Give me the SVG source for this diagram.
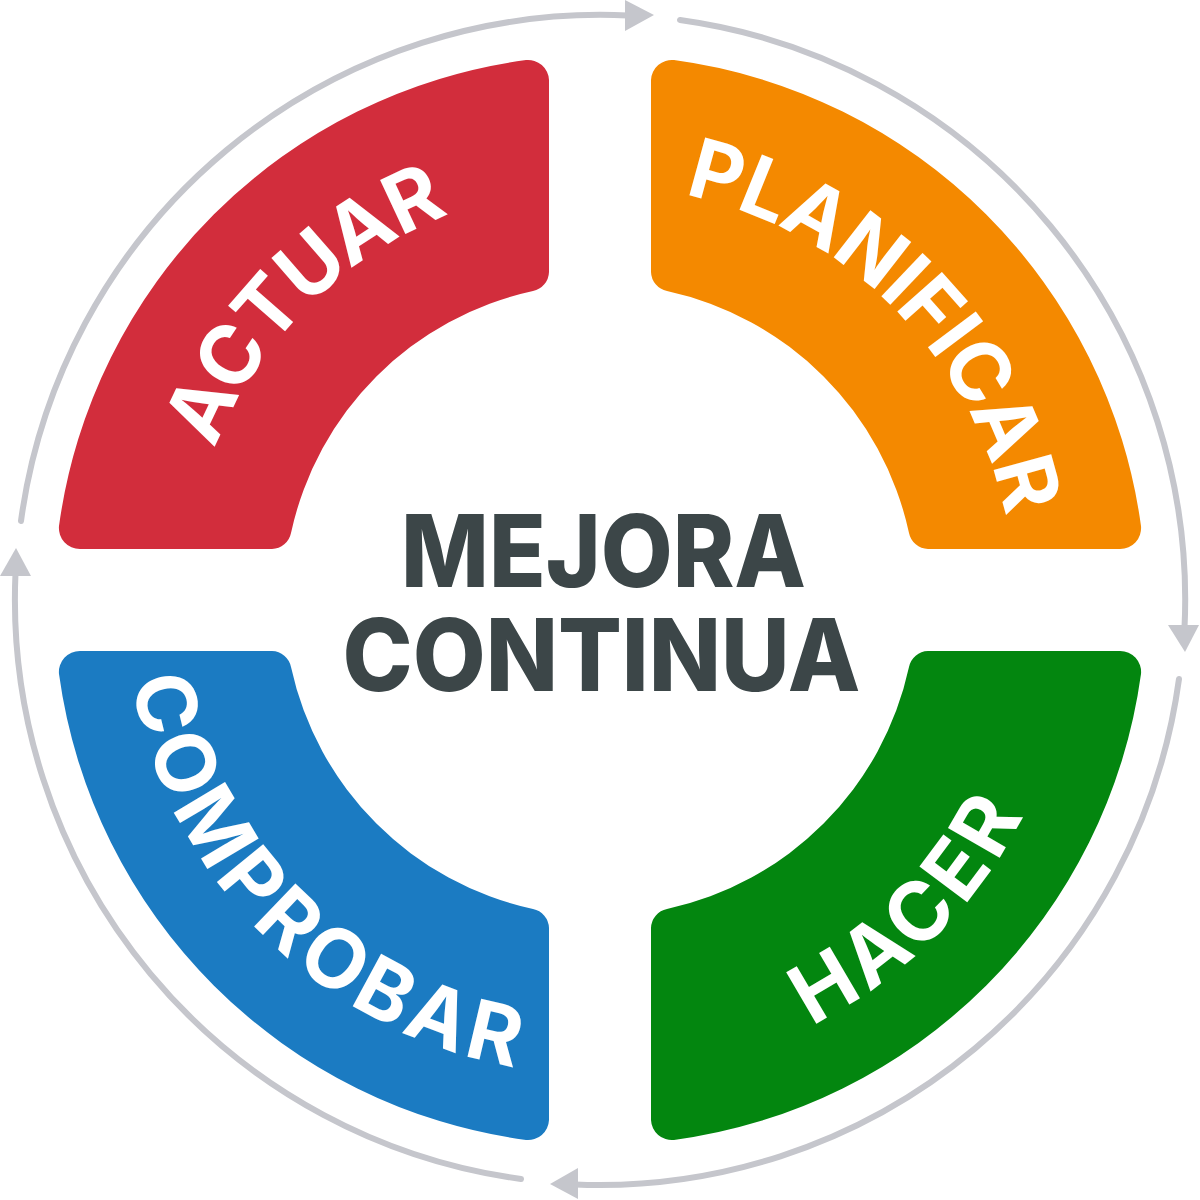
<svg xmlns="http://www.w3.org/2000/svg" width="1200" height="1200" viewBox="0 0 1200 1200">
<style>
.ring{fill:none;stroke:#c5c6cc;stroke-width:6;stroke-linecap:round}
.head{fill:#c5c6cc}
.lbl{font-family:"Inter","Liberation Sans",sans-serif;font-weight:700;font-size:82px;fill:#fff;text-anchor:middle;letter-spacing:-1px}
.lbl.wide{letter-spacing:5px}
.ctr{font-family:"Inter","Liberation Sans",sans-serif;font-weight:800;font-size:100px;fill:#3c4648;text-anchor:middle}
</style>
<defs>
<path id="pP" d="M600,186 A414,414 0 0 1 1014,600"/>
<path id="pA" d="M186,600 A414,414 0 0 1 600,186"/>
<path id="pH" d="M600,1075 A475,475 0 0 0 1075,600"/>
<path id="pC" d="M125,600 A475,475 0 0 0 600,1075"/>
</defs>
<g id="connectors">
<path class="ring" d="M680,20 A585,585 0 0 1 1184.500,628"/>
<polygon class="head" points="1168,625 1199,625 1185,652"/>
<path class="ring" d="M1179,679 A585,585 0 0 1 575,1184.500"/>
<polygon class="head" points="578,1168 578,1199 550,1184"/>
<path class="ring" d="M521,1179 A585,585 0 0 1 15.500,573"/>
<polygon class="head" points="0,576 31,576 16,548"/>
<path class="ring" d="M21,521 A585,585 0 0 1 628,15.500"/>
<polygon class="head" points="625,0 625,31 654,15"/>
</g>
<g id="planificar">
<path fill="#f48900" d="M651,80 A21,21 0 0 1 674,60 A545,545 0 0 1 1141,526 A21,21 0 0 1 1120,549 L928,549 A20,20 0 0 1 909,533 A316,316 0 0 0 667,291 A20,20 0 0 1 651,272 Z"/>
<text class="lbl"><textPath href="#pP" startOffset="50%">PLANIFICAR</textPath></text>
</g>
<g id="hacer">
<path fill="#03860f" d="M1120,651 A21,21 0 0 1 1141,674 A545,545 0 0 1 674,1140 A21,21 0 0 1 651,1120 L651,928 A20,20 0 0 1 667,909 A316,316 0 0 0 909,667 A20,20 0 0 1 928,651 Z"/>
<text class="lbl wide"><textPath href="#pH" startOffset="50%">HACER</textPath></text>
</g>
<g id="comprobar">
<path fill="#1b7bc2" d="M549,1120 A21,21 0 0 1 526,1140 A545,545 0 0 1 59,674 A21,21 0 0 1 80,651 L272,651 A20,20 0 0 1 291,667 A316,316 0 0 0 533,909 A20,20 0 0 1 549,928 Z"/>
<text class="lbl wide"><textPath href="#pC" startOffset="50%">COMPROBAR</textPath></text>
</g>
<g id="actuar">
<path fill="#d22d3c" d="M80,549 A21,21 0 0 1 59,526 A545,545 0 0 1 526,60 A21,21 0 0 1 549,80 L549,272 A20,20 0 0 1 533,291 A316,316 0 0 0 291,533 A20,20 0 0 1 272,549 Z"/>
<text class="lbl"><textPath href="#pA" startOffset="50%">ACTUAR</textPath></text>
</g>
<g id="centro">
<text class="ctr" x="603.500" y="587" textLength="405" lengthAdjust="spacingAndGlyphs">MEJORA</text>
<text class="ctr" x="601.500" y="691" textLength="518" lengthAdjust="spacingAndGlyphs">CONTINUA</text>
</g>
</svg>
